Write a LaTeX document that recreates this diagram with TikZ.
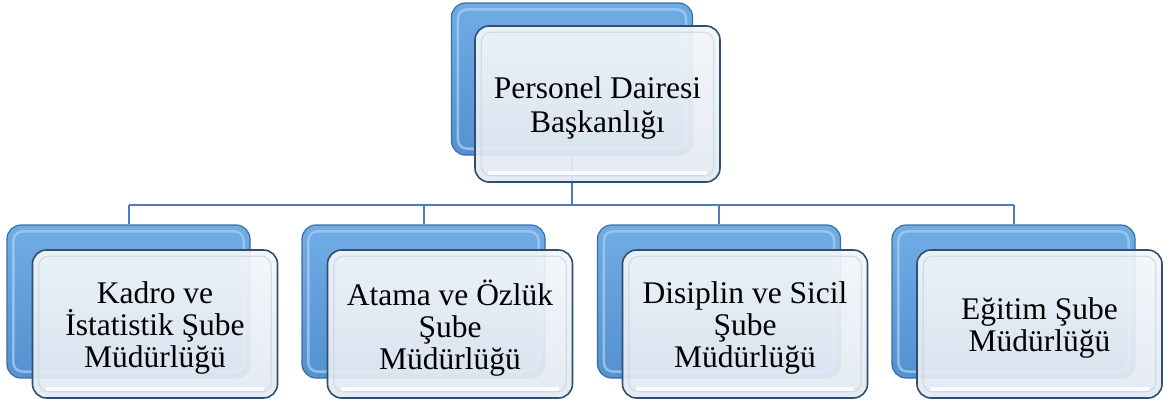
\documentclass[tikz,border=0pt]{standalone}
\usepackage{fontspec}
\setmainfont{Liberation Serif}
\definecolor{blight}{HTML}{70ACE4}
\definecolor{bmid}{HTML}{5590D0}
\definecolor{bdark}{HTML}{3C6DA6}
\definecolor{bhigh}{HTML}{A6CFF3}
\definecolor{fborder}{HTML}{2E4F70}
\definecolor{ftop}{HTML}{F3F6FA}
\definecolor{fbot}{HTML}{E2E9F1}
\definecolor{finner}{HTML}{C9D2DD}
\definecolor{lineblue}{HTML}{4A7EBB}
\begin{document}
\begin{tikzpicture}[x=1pt,y=-1pt,
  backbox/.style={draw=bdark, line width=1.2pt, rounded corners=14pt,
    top color=blight, bottom color=bmid, inner sep=0pt},
  frontbox/.style={draw=fborder, line width=1.6pt, rounded corners=14pt,
    top color=ftop, bottom color=fbot, fill opacity=0.93, inner sep=0pt},
  topsize/.style={minimum width=241pt, minimum height=152pt},
  topfront/.style={minimum width=245pt, minimum height=156pt},
  subback/.style={minimum width=243pt, minimum height=153pt},
  subfront/.style={minimum width=245pt, minimum height=148pt},
  toptext/.style={align=center, inner sep=0pt, font=\fontsize{31.5}{33.5}\selectfont},
  subtext/.style={align=center, inner sep=0pt, font=\fontsize{31.5}{32}\selectfont},
  conn/.style={draw=lineblue, line width=2pt}
]
\useasboundingbox (0,0) rectangle (1176,410);

\coordinate (hub) at (572,205);
\coordinate (h1) at (128.5,205);
\coordinate (h4) at (1013.5,205);

% top box (back)
\node[backbox, topsize] (topback) at (572,79) {};
\draw[conn] (topback.south) -- (hub);
\draw[conn] (h1) -- (h4);

% sub boxes (back)
\node[backbox, subback] (b1) at (128.5,301.5) {};
\node[backbox, subback] (b2) at (423.5,301.5) {};
\node[backbox, subback] (b3) at (719,301.5) {};
\node[backbox, subback] (b4) at (1013.5,301.5) {};
\draw[conn] (h1) -- (b1.north);
\draw[conn] (b2.north |- hub) -- (b2.north);
\draw[conn] (b3.north |- hub) -- (b3.north);
\draw[conn] (h4) -- (b4.north);

% bevel highlight of back boxes
\foreach \n in {topback,b1,b2,b3,b4}{
  \draw[bhigh, line width=2.5pt, rounded corners=9pt, opacity=0.75]
    ([shift={(7pt,-7pt)}]\n.north west) rectangle ([shift={(-7pt,7pt)}]\n.south east);
}

% front boxes
\node[frontbox, topfront] (top) at (597.5,104) {};
\node[frontbox, subfront] (f1) at (155,324) {};
\node[frontbox, subfront] (f2) at (450,324) {};
\node[frontbox, subfront] (f3) at (745,324) {};
\node[frontbox, subfront] (f4) at (1039.5,324) {};

% inner bevel hints of front boxes
\foreach \n in {top,f1,f2,f3,f4}{
  \draw[finner, line width=1.2pt, rounded corners=10pt, opacity=0.7]
    ([shift={(7pt,-7pt)}]\n.north west) rectangle ([shift={(-7pt,7pt)}]\n.south east);
  \draw[white, line width=4pt, opacity=0.8]
    ([shift={(14pt,10pt)}]\n.south west) -- ([shift={(-14pt,10pt)}]\n.south east);
}

% texts
\node[toptext] (toptxt) at ([yshift=-4pt]top.center) {Personel Dairesi\\Başkanlığı};
\node[subtext] (t1) at ([yshift=-4pt]f1.center) {Kadro ve\\İstatistik Şube\\Müdürlüğü};
\node[subtext] (t2) at ([yshift=-4pt]f2.center) {Atama ve Özlük\\Şube\\Müdürlüğü};
\node[subtext] (t3) at ([yshift=-4pt]f3.center) {Disiplin ve Sicil\\Şube\\Müdürlüğü};
\node[subtext] (t4) at ([yshift=-4pt]f4.center) {Eğitim Şube\\Müdürlüğü};
\end{tikzpicture}
\end{document}
